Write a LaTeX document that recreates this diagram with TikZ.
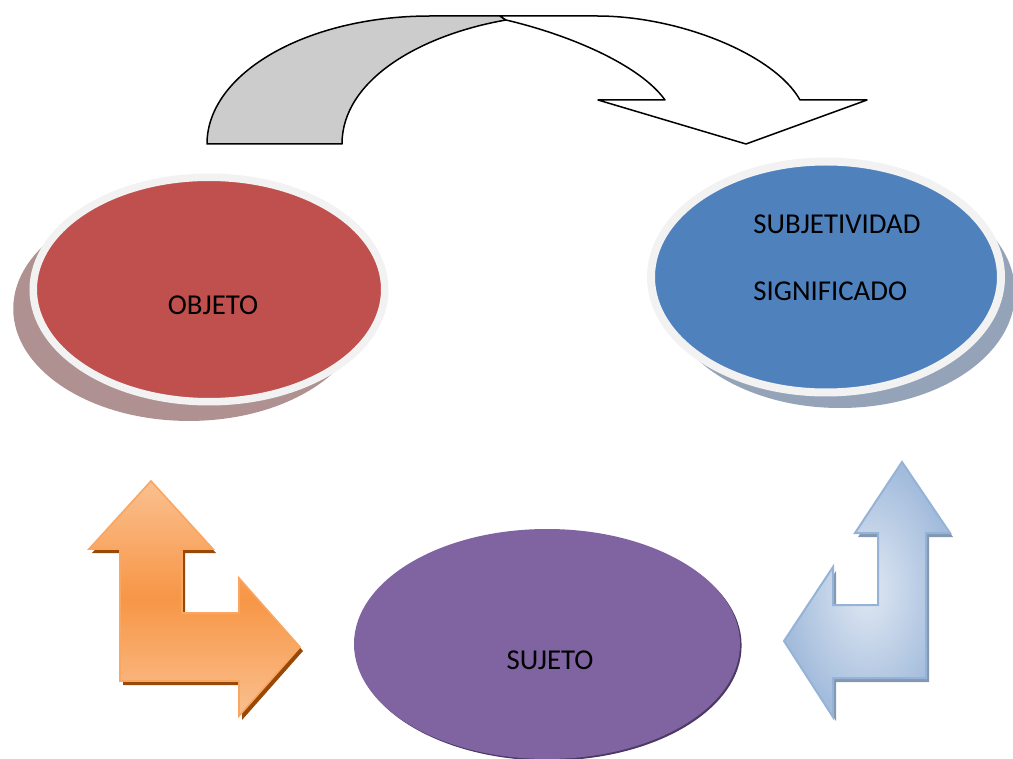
\documentclass[tikz,border=0pt]{standalone}
\usepackage{fontspec}
\setmainfont{Carlito}
\usepackage{xcolor}
\usepackage{tikz}
\usetikzlibrary{
  positioning,
  shapes.geometric,
  shadows
}
\definecolor{objred}{HTML}{C0504D}
\definecolor{objshade}{HTML}{B09191}
\definecolor{ringgray}{HTML}{F2F2F2}
\definecolor{subjblue}{HTML}{4F81BD}
\definecolor{subjshade}{HTML}{94A3B8}
\definecolor{sujpurple}{HTML}{8064A2}
\definecolor{sujshade}{HTML}{4B3A63}
\definecolor{backgray}{HTML}{CCCCCC}
\definecolor{orangemid}{HTML}{F79646}
\definecolor{orangelight}{HTML}{FAC08F}
\definecolor{orangeshade}{HTML}{984807}
\definecolor{bluedark}{HTML}{A3BCDC}
\definecolor{bluelight}{HTML}{E0E8F3}
\definecolor{blueedge}{HTML}{95B3D7}
\definecolor{blueshade}{HTML}{8497B0}
\tikzset{
  oval/.style={ellipse,inner sep=0pt,outer sep=0pt},
  ringed/.style={oval,draw=ringgray,line width=#1},
  lbl/.style={inner sep=0pt,font=\fontsize{14.4}{17}\selectfont},
  backpart/.style={fill=backgray,draw=black,line width=0.75pt,line join=round},
  frontpart/.style={fill=white,draw=black,line width=0.75pt,line join=round},
  orangebent/.style={top color=orangelight,bottom color=orangelight,middle color=orangemid,
    draw=orangemid!85!white,line width=0.8pt,
    drop shadow={shadow xshift=1.5pt,shadow yshift=-2pt,fill=orangeshade,draw=none,opacity=1}},
  bluebent/.style={inner color=bluelight,outer color=bluedark,
    draw=blueedge,line width=1pt,
    drop shadow={shadow xshift=1.5pt,shadow yshift=-2pt,fill=blueshade,draw=none,opacity=1}}
}
\begin{document}
\begin{tikzpicture}[x=0.5pt,y=-0.5pt]
    \useasboundingbox (0,0) rectangle (1013,759);

    % curved arrow on top
    \filldraw[backpart] (207,144) .. controls (207,73) and (307,16) .. (430,16) -- (500,16) -- (506,20)
        .. controls (420,35) and (342,80) .. (342,144) -- cycle;
    \filldraw[frontpart] (506,20) .. controls (570,35) and (640,65) .. (665,100) -- (598,100) -- (746,144)
        -- (867,100) -- (800,100) .. controls (775,55) and (680,16) .. (597,16) -- (500,16) -- cycle;

    \node[ringed=3.75pt,fill=objred,minimum width=175.75pt,minimum height=112.25pt,
      drop shadow={shadow xshift=-10pt,shadow yshift=-9.6pt,fill=objshade,draw=none,opacity=1}]
      (objeto) at (209,289.5) {};
    \node[ringed=4pt,fill=subjblue,minimum width=175pt,minimum height=115.5pt,
      drop shadow={shadow xshift=7pt,shadow yshift=-7.75pt,fill=subjshade,draw=none,opacity=1}]
      (subjetividad) at (826,277) {};
    \node[oval,fill=sujpurple,minimum width=193pt,minimum height=115pt,
      drop shadow={shadow xshift=0.8pt,shadow yshift=-0.8pt,fill=sujshade,draw=none,opacity=1}]
      (sujeto) at (547,644) {};

    \node[lbl,anchor=base] (objetoTxt) at (213,315) {OBJETO};
    \node[lbl,anchor=base west] (subjTxt) at (753,234) {SUBJETIVIDAD};
    \node[lbl,anchor=base west] (signTxt) at (753,301) {SIGNIFICADO};
    \node[lbl,anchor=base] (sujetoTxt) at (550,669) {SUJETO};

    % bent arrows
    \path[orangebent] (151,481) -- (213,549) -- (182,549) -- (182,613) -- (239,613) -- (239,578)
        -- (300,647) -- (239,716) -- (239,681) -- (120,681) -- (120,549) -- (89,549) -- cycle;
    \path[bluebent] (902,462) -- (950,533) -- (926,533) -- (926,678) -- (833,678) -- (833,717)
        -- (784,641) -- (833,567) -- (833,605) -- (878,605) -- (878,533) -- (855,533) -- cycle;
\end{tikzpicture}
\end{document}
